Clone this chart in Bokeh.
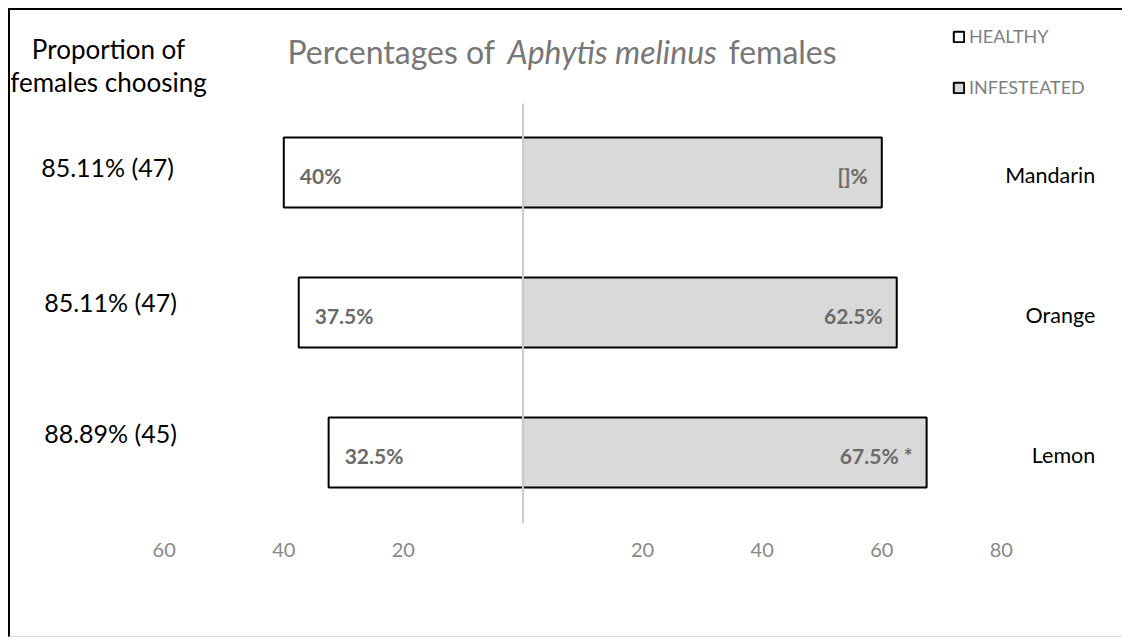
from bokeh.plotting import figure
from bokeh.models import Range1d, ColumnDataSource, Label, Legend, LegendItem, FixedTicker
from bokeh.core.properties import value
from bokeh.embed import file_html
from bokeh.resources import INLINE

# ---------------- data ----------------
fruits = ["Mandarin", "Orange", "Lemon"]
healthy = [40, 37.5, 32.5]
infested = [60, 62.5, 67.5]
healthy_labels = ["40%", "37.5%", "32.5%"]
infested_labels = ["[]%", "62.5%", "67.5% *"]
proportions = ["85.11% (47)", "85.11% (47)", "88.89% (45)"]
tick_values = [-60, -40, -20, 20, 40, 60, 80]
tick_labels = ["60", "40", "20", "20", "40", "60", "80"]

# ---------------- layout helpers ----------------
FONT = "Lato"
ypos = [len(fruits) - 1 - i for i in range(len(fruits))]   # Mandarin on top


def vy(page_y):
    # page pixel -> y data value (140 px per category, Lemon centre at page y 452)
    return (452 - page_y) / 140.0


def sx(page_x):
    # page pixel -> screen px from the frame's left edge (canvas starts at page x 10)
    return page_x - 10


src = ColumnDataSource(dict(
    y=ypos,
    fruit=fruits,
    h_left=[-v for v in healthy],
    zero=[0] * len(fruits),
    inf=infested,
    hl=healthy_labels,
    il=infested_labels,
))

p = figure(width=1114, height=629, output_backend="svg", toolbar_location=None,
           x_range=Range1d(-85.70, 100.59), y_range=Range1d(vy(530), vy(10)),
           min_border_left=0, min_border_right=0, min_border_top=0, min_border_bottom=109)
p.styles = {"margin-left": "8px", "margin-top": "8px",
            "border-top": "2px solid #000000", "border-left": "2px solid #000000",
            "border-bottom": "1px solid #d9d9d9"}
p.outline_line_color = None
p.xgrid.visible = False
p.ygrid.visible = False
p.yaxis.visible = False
p.background_fill_color = "white"
p.border_fill_color = "white"

xa = p.xaxis[0]
xa.ticker = FixedTicker(ticks=tick_values)
xa.major_label_overrides = {float(k): v for k, v in zip(tick_values, tick_labels)}
xa.axis_line_color = None
xa.major_tick_line_color = None
xa.minor_tick_line_color = None
xa.major_tick_out = 0
xa.major_label_standoff = 12
xa.major_label_text_font = FONT
xa.major_label_text_font_size = "20px"
xa.major_label_text_color = "#888888"

r_h = p.hbar(y="y", left="h_left", right="zero", height=0.5, source=src,
             fill_color="white", line_color="black", line_width=2)
r_i = p.hbar(y="y", left="zero", right="inf", height=0.5, source=src,
             fill_color="#d9d9d9", line_color="black", line_width=2)

# centre line
p.segment(x0=[0], x1=[0], y0=[vy(523)], y1=[vy(103)], line_color="#cccccc", line_width=2)

# bar value labels
p.text(x="h_left", y="y", text="hl", source=src, x_offset=16, y_offset=3,
       text_align="left", text_baseline="middle", text_font=value(FONT),
       text_font_style="bold", text_font_size="21px", text_color="#6a6a6a")
p.text(x="inf", y="y", text="il", source=src, x_offset=-14, y_offset=3,
       text_align="right", text_baseline="middle", text_font=value(FONT),
       text_font_style="bold", text_font_size="21px", text_color="#6a6a6a")

# category names on the right
p.text(x=95.7, y="y", text="fruit", source=src, y_offset=2,
       text_align="right", text_baseline="middle", text_font=value(FONT),
       text_font_size="21.5px", text_color="black")

# proportion labels on the left
prop_cx = [107, 110, 110]
prop_cy = [166, 301, 432]
for txt, cx, cy in zip(proportions, prop_cx, prop_cy):
    p.add_layout(Label(x=sx(cx), y=vy(cy), x_units="screen", y_units="data", text=txt,
                       text_align="center", text_baseline="middle", text_font=FONT,
                       text_font_size="25px", text_color="black"))

# left heading
for txt, my in [("Proportion of", 48), ("females choosing", 81)]:
    p.add_layout(Label(x=sx(108), y=vy(my), x_units="screen", y_units="data", text=txt,
                       text_align="center", text_baseline="middle", text_font=FONT,
                       text_font_size="26px", text_color="black"))

# title (mixed italic)
for txt, lx, style in [("Percentages of", 287, "normal"), ("Aphytis melinus", 507, "italic"),
                       ("females", 728, "normal")]:
    p.add_layout(Label(x=sx(lx), y=vy(51), x_units="screen", y_units="data", text=txt,
                       text_align="left", text_baseline="middle", text_font=FONT,
                       text_font_style=style, text_font_size="32px", text_color="#777777"))

legend = Legend(items=[LegendItem(label="HEALTHY", renderers=[r_h]),
                       LegendItem(label="INFESTEATED", renderers=[r_i])],
                location=(sx(952), 432), orientation="vertical",
                glyph_width=13, glyph_height=13, label_standoff=4, spacing=29,
                padding=0, margin=0, border_line_color=None, background_fill_alpha=0,
                label_text_font=FONT, label_text_font_size="18px",
                label_text_color="#7f7f7f", label_height=22)
p.add_layout(legend)

open("out.html", "w").write(file_html(p, INLINE))
